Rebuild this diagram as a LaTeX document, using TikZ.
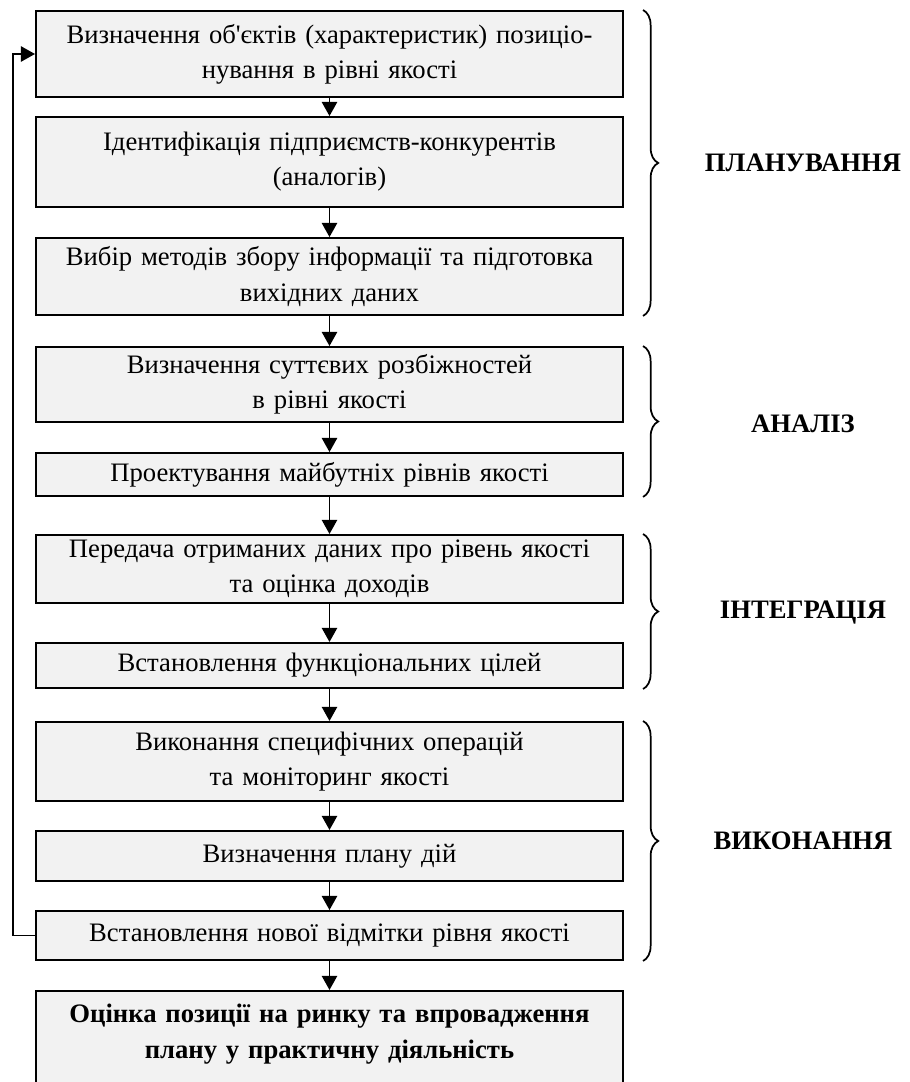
\documentclass[tikz,border=0pt]{standalone}
\usepackage{fontspec}
\setmainfont{Liberation Serif}
\usetikzlibrary{arrows.meta,decorations.pathreplacing}
\begin{document}
\begin{tikzpicture}[x=0.4615pt,y=-0.4615pt,line width=0.9pt,
  stage/.style={draw,fill=black!5,minimum width=270.9pt,text width=264pt,align=center,
    inner ysep=0.5pt,font=\fontsize{12.3}{16.2}\selectfont},
  flow/.style={-{Triangle[width=7pt,length=6.5pt]}},
  brc/.style={decorate,decoration={brace,amplitude=7pt},line width=0.8pt},
  phase/.style={font=\fontsize{12.3}{16}\selectfont\bfseries}]
\useasboundingbox (0,0) rectangle (909,1082);

\node[stage,minimum height=39.7pt] (b1) at (329.5,54) {Визначення об\textquotesingle єктів (характеристик) позиціо-\\нування в рівні якості};
\node[stage,minimum height=41.5pt] (b2) at (329.5,162) {Ідентифікація підприємств-конкурентів\\(аналогів)};
\node[stage,minimum height=35.5pt] (b3) at (329.5,276.5) {Вибір методів збору інформації та підготовка\\вихідних даних};
\node[stage,minimum height=34.6pt] (b4) at (329.5,384.5) {Визначення суттєвих розбіжностей\\в рівні якості};
\node[stage,minimum height=19.8pt] (b5) at (329.5,474.5) {Проектування майбутніх рівнів якості};
\node[stage,minimum height=31.4pt] (b6) at (329.5,569) {Передача отриманих даних про рівень якості\\та оцінка доходів};
\node[stage,minimum height=20.8pt] (b7) at (329.5,665.5) {Встановлення функціональних цілей};
\node[stage,minimum height=36.5pt] (b8) at (329.5,761.5) {Виконання специфічних операцій\\та моніторинг якості};
\node[stage,minimum height=23.1pt] (b9) at (329.5,856) {Визначення плану дій};
\node[stage,minimum height=22.6pt] (b10) at (329.5,935.5) {Встановлення нової відмітки рівня якості};
\node[stage,anchor=north,text height=14pt,text depth=60pt,font=\fontsize{12.3}{16.5}\selectfont\bfseries] (b11) at (329.5,990) {Оцінка позиції на ринку та впровадження\\плану у практичну діяльність};

\foreach \a/\b in {b1/b2,b2/b3,b3/b4,b4/b5,b5/b6,b6/b7,b7/b8,b8/b9,b9/b10,b10/b11}
  \draw[flow] (\a) -- (\b);
\draw[flow] (b10.west) -- ++(-22,0) |- (b1.west);

\draw[brc] ([xshift=8.8pt]b1.north east) -- ([xshift=8.8pt]b3.south east);
\draw[brc] ([xshift=8.8pt]b4.north east) -- ([xshift=8.8pt]b5.south east);
\draw[brc] ([xshift=8.8pt]b6.north east) -- ([xshift=8.8pt]b7.south east);
\draw[brc] ([xshift=8.8pt]b8.north east) -- ([xshift=8.8pt]b10.south east);

\node[phase] (plan) at (803,163) {ПЛАНУВАННЯ};
\node[phase] (anal) at (803,424) {АНАЛІЗ};
\node[phase] (intg) at (803,613) {ІНТЕГРАЦІЯ};
\node[phase] (vyk) at (803,841) {ВИКОНАННЯ};
\end{tikzpicture}
\end{document}
